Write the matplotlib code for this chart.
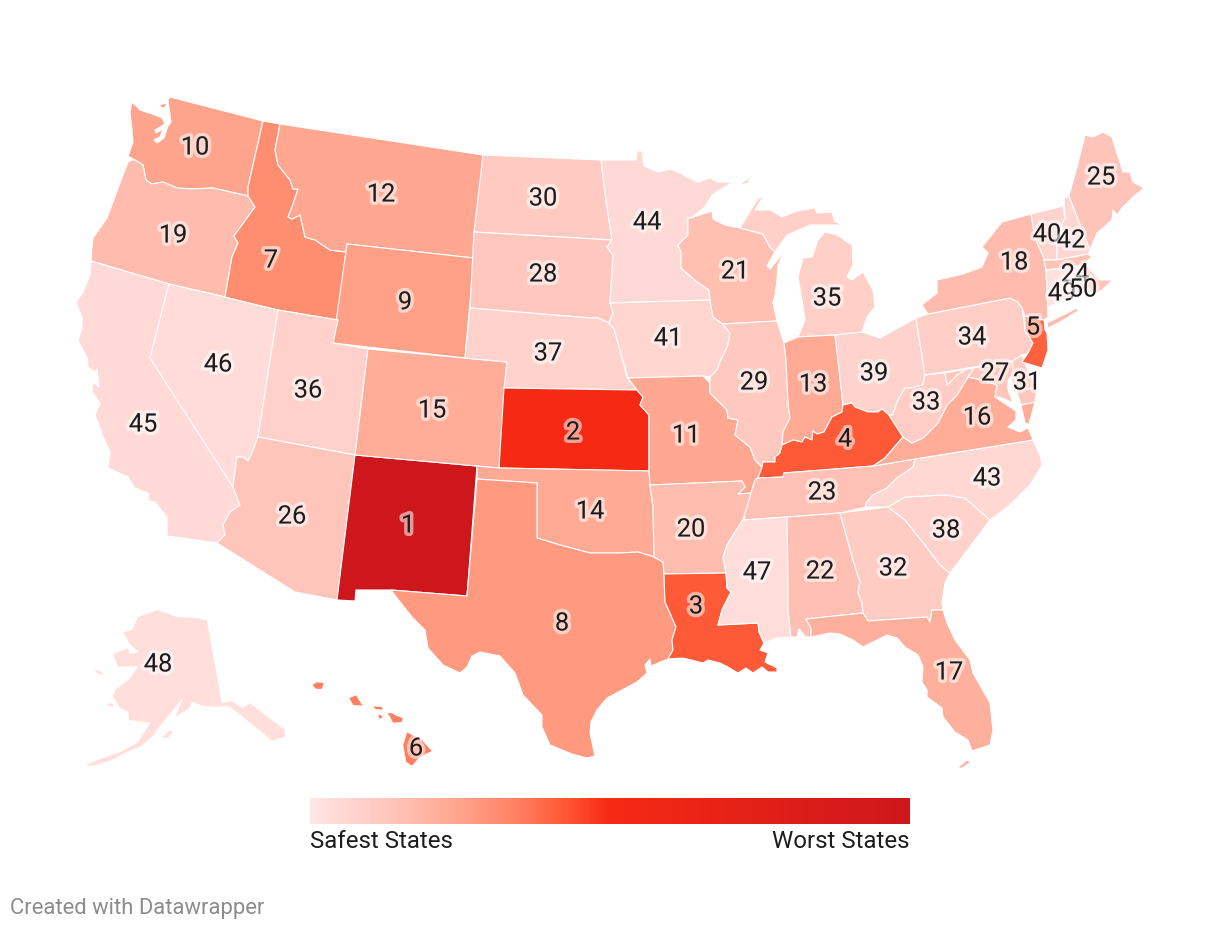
import matplotlib
matplotlib.use("Agg")
import matplotlib.pyplot as plt
import matplotlib.patheffects as pe
from matplotlib.colors import LinearSegmentedColormap
from matplotlib.patches import Polygon
import numpy as np

plt.rcParams['font.family'] = ['Roboto', 'DejaVu Sans']

# state -> safety rank (1 = worst)
RANKS = {
 'NM':1,'KS':2,'LA':3,'KY':4,'NJ':5,'HI':6,'ID':7,'TX':8,'WY':9,'WA':10,
 'MO':11,'MT':12,'IN':13,'OK':14,'CO':15,'VA':16,'FL':17,'NY':18,'OR':19,'AR':20,
 'WI':21,'AL':22,'TN':23,'MA':24,'ME':25,'AZ':26,'MD':27,'SD':28,'IL':29,'ND':30,
 'DE':31,'GA':32,'WV':33,'PA':34,'MI':35,'UT':36,'NE':37,'SC':38,'OH':39,'VT':40,
 'IA':41,'NH':42,'NC':43,'MN':44,'CA':45,'NV':46,'MS':47,'AK':48,'CT':49,'RI':50,
}
# colour-scale position read for each rank, 1..50
SCALE_BY_RANK = [1.0,.5,.42,.42,.41,.35,.31,.28,.26,.25,.24,.24,.23,.23,.22,.22,.21,.17,.17,.165,
 .16,.155,.15,.145,.14,.135,.13,.125,.12,.115,.11,.105,.10,.095,.09,.085,.08,.08,.075,.07,
 .065,.06,.055,.05,.045,.04,.035,.03,.02,.01]
SCALE_STOPS = [(0,'#FFE6E6'),(.07,'#FFD4CE'),(.14,'#FFC4B9'),(.25,'#FFA48C'),(.35,'#FF7E5F'),
               (.42,'#FF5A38'),(.5,'#F62A14'),(1,'#CE171C')]
LEGEND_LOW = 'Safest States'
LEGEND_HIGH = 'Worst States'
CREDIT = 'Created with Datawrapper'

LABEL_XY = {
 'NM':(408,523),'KS':(573,430),'LA':(696,604),'KY':(845,437),'NJ':(1033,325),'HI':(416,746),'ID':(271,258),
 'TX':(562,621),'WY':(405,300),'WA':(195,145),'MO':(686,433),'MT':(381,192),'IN':(813,382),'OK':(590,509),
 'CO':(432,408),'VA':(977,415),'FL':(949,670),'NY':(1014,260),'OR':(173,233),'AR':(691,527),'WI':(735,269),
 'AL':(820,569),'TN':(822,490),'MA':(1075,272),'ME':(1101,175),'AZ':(292,514),'MD':(995,371),'SD':(543,272),
 'IL':(754,380),'ND':(543,196),'DE':(1027,380),'GA':(893,566),'WV':(926,400),'PA':(972,335),'MI':(827,296),
 'UT':(308,388),'NE':(548,351),'SC':(946,528),'OH':(874,371),'VT':(1047,232),'IA':(668,336),'NH':(1071,238),
 'NC':(987,476),'MN':(647,220),'CA':(143,422),'NV':(218,362),'MS':(757,570),'AK':(158,662),'CT':(1062,291),
 'RI':(1083,287),
}

# Map outlines, in the map's projected coordinates
SHAPES = {
 'WA':[[(170,97),(263,121),(248,187),(248,196),(213,188),(192,189),(177,188),(163,182),(152,184),(146,180),(143,165),(135,160),(128,156),(131,148),(133,142),(132,130),(130,112),(132,102),(140,110),(155,115),(162,118),(165,124),(155,130),(156,133),(163,129),(160,137),(154,140),(157,143),(164,138),(168,126),(171,122),(169,108),(168,100)],
       [(159,105),(166,103),(166,107),(162,108)]],
 'OR':[[(132,160),(135,160),(143,165),(146,180),(152,184),(163,182),(177,188),(192,189),(213,188),(248,196),(255,207),(234,236),(238,243),(232,257),(225,297),(169,284),(91,261),(92,247),(93,238),(107,218),(120,183),(128,162)]],
 'CA':[[(91,261),(169,284),(150,358),(233,487),(240,505),(230,512),(223,525),(225,535),(217,543),(167,536),(167,517),(155,502),(149,501),(148,493),(135,488),(128,477),(108,468),(110,452),(103,437),(95,415),(100,403),(92,392),(93,382),(99,387),(97,369),(95,372),(88,367),(87,358),(78,340),(82,328),(82,317),(76,302),(83,292),(90,275)]],
 'NV':[[(169,284),(225,297),(278,310),(258,437),(252,453),(248,461),(243,457),(237,457),(233,487),(150,358)]],
 'ID':[[(263,121),(280,124),(275,150),(278,165),(290,180),(293,189),(298,189),(292,207),(288,217),(292,219),(300,215),(305,237),(315,240),(330,250),(346,252),(338,320),(278,310),(225,297),(232,257),(238,243),(234,236),(255,207),(248,196),(248,187)]],
 'MT':[[(280,124),(483,155),(474,258),(347,244),(346,252),(330,250),(315,240),(305,237),(300,215),(292,219),(288,217),(292,207),(298,189),(293,189),(290,180),(278,165),(275,150)]],
 'WY':[[(347,244),(474,258),(465,358),(333,343)]],
 'UT':[[(278,310),(338,320),(333,343),(368,349),(355,455),(258,437)]],
 'AZ':[[(258,437),(355,455),(337,600),(295,592),(217,543),(225,535),(223,525),(230,512),(240,505),(233,487),(237,457),(243,457),(248,461),(252,453)]],
 'NM':[[(355,455),(477,466),(467,596),(391,590),(356,590),(355,601),(337,600)]],
 'CO':[[(368,349),(507,362),(499,468),(355,455)]],
 'ND':[[(483,155),(601,160),(605,193),(610,227),(612,240),(474,232)]],
 'SD':[[(474,232),(612,240),(607,247),(613,255),(610,303),(613,313),(609,323),(598,318),(590,318),(470,308)]],
 'NE':[[(470,308),(590,318),(598,318),(609,323),(614,329),(620,350),(627,378),(637,390),(504,388),(507,362),(465,358)]],
 'KS':[[(504,388),(637,390),(643,397),(640,405),(649,415),(649,471),(499,468)]],
 'OK':[[(477,466),(499,468),(649,471),(650,485),(653,507),(654,557),(638,552),(620,553),(590,553),(560,545),(537,538),(537,483),(477,479)]],
 'TX':[[(477,479),(537,483),(537,538),(560,545),(590,553),(620,553),(638,552),(654,557),(663,562),(664,574),(665,602),(670,613),(676,627),(672,640),(673,650),(668,659),(651,666),(650,659),(645,665),(647,673),(637,682),(607,698),(597,710),(591,722),(590,733),(595,756),(587,758),(572,754),(550,745),(542,727),(542,715),(523,695),(515,673),(500,656),(480,652),(472,656),(467,667),(460,673),(443,665),(428,648),(425,630),(412,617),(397,598),(391,590),(467,596)]],
 'MN':[[(601,160),(636,160),(637,151),(642,151),(644,166),(658,172),(670,169),(680,173),(687,177),(698,182),(710,178),(718,182),(733,182),(712,195),(705,207),(691,218),(688,218),(688,235),(678,245),(681,252),(681,268),(688,274),(697,282),(709,290),(710,300),(610,303),(613,255),(607,247),(612,240),(610,227),(605,193)]],
 'IA':[[(610,303),(710,300),(713,317),(723,324),(730,333),(728,345),(720,362),(717,370),(710,377),(703,376),(628,378),(620,350),(614,329),(609,323),(613,313)]],
 'MO':[[(628,378),(703,376),(710,383),(710,393),(727,410),(728,418),(738,420),(735,435),(750,447),(755,460),(762,467),(758,478),(755,480),(751,493),(738,494),(745,487),(742,481),(650,485),(649,471),(649,415),(640,405),(643,397),(637,390)]],
 'AR':[[(650,485),(742,481),(745,487),(738,494),(751,493),(745,517),(735,532),(727,545),(723,557),(726,573),(664,574),(663,562),(654,557),(653,507)]],
 'LA':[[(664,574),(726,573),(727,588),(731,592),(722,610),(718,625),(758,623),(759,632),(764,643),(760,650),(768,653),(765,662),(777,668),(777,672),(768,672),(762,667),(753,673),(746,668),(738,673),(728,667),(720,663),(708,660),(703,663),(683,658),(668,659),(673,650),(672,640),(676,627),(670,613),(665,602)]],
 'WI':[[(691,218),(712,211),(713,219),(725,225),(740,228),(763,234),(770,247),(775,252),(767,266),(770,269),(784,252),(778,265),(777,280),(775,295),(773,303),(777,321),(723,324),(713,317),(710,300),(709,290),(697,282),(688,274),(681,268),(681,252),(678,245),(688,235),(688,218)]],
 'IL':[[(723,324),(777,321),(784,343),(786,360),(788,403),(790,418),(783,432),(782,445),(780,453),(775,457),(775,462),(763,462),(762,467),(755,460),(750,447),(735,435),(738,420),(728,418),(727,410),(710,393),(710,383),(710,377),(717,370),(720,362),(728,345),(730,333)]],
 'MI':[[(740,228),(757,200),(765,194),(755,210),(770,210),(782,217),(797,211),(815,208),(817,213),(832,212),(835,222),(845,225),(823,225),(810,225),(787,235),(775,252),(770,247),(763,234)],
       [(825,232),(818,240),(812,257),(803,258),(798,277),(802,300),(805,320),(798,337),(835,335),(862,332),(867,317),(875,307),(873,290),(863,272),(852,280),(847,277),(853,265),(852,245),(837,235)],
       [(738,186),(750,177),(748,183)]],
 'IN':[[(784,343),(798,337),(835,335),(838,360),(843,405),(842,412),(832,417),(824,432),(817,434),(813,431),(812,440),(805,437),(802,442),(793,440),(782,445),(783,432),(790,418),(788,403),(786,360)]],
 'OH':[[(835,335),(862,332),(880,338),(916,318),(925,373),(923,385),(910,388),(905,388),(897,402),(893,415),(889,415),(882,409),(878,412),(868,412),(855,407),(852,403),(843,405),(838,360)]],
 'KY':[[(763,462),(775,462),(775,457),(780,453),(782,445),(793,440),(802,442),(805,437),(812,440),(813,431),(817,434),(824,432),(832,417),(842,412),(843,405),(852,403),(855,407),(868,412),(878,412),(882,409),(889,415),(903,437),(885,458),(873,466),(784,473),(783,477),(758,478),(762,467)]],
 'TN':[[(758,478),(783,477),(784,473),(873,466),(915,459),(913,467),(897,478),(887,488),(873,495),(866,503),(866,507),(840,513),(787,517),(743,520),(751,493),(755,480)]],
 'MS':[[(743,520),(787,517),(788,580),(788,610),(791,637),(777,638),(764,643),(759,632),(758,623),(718,625),(722,610),(731,592),(727,588),(726,573),(723,557),(727,545),(735,532),(745,517)]],
 'AL':[[(787,517),(840,513),(853,560),(860,582),(858,593),(862,603),(863,613),(806,619),(811,628),(811,637),(806,637),(799,629),(797,637),(791,637),(788,610),(788,580)]],
 'GA':[[(840,513),(888,507),(905,520),(925,545),(940,565),(950,573),(945,583),(942,603),(943,610),(932,610),(930,622),(927,617),(868,621),(863,613),(862,603),(858,593),(860,582),(853,560)]],
 'FL':[[(806,619),(863,613),(868,621),(927,617),(930,622),(932,610),(943,610),(947,623),(955,640),(970,660),(973,673),(990,703),(993,730),(990,745),(972,751),(968,740),(955,732),(943,717),(942,708),(927,697),(927,690),(922,682),(923,667),(918,655),(905,647),(897,638),(887,635),(877,640),(863,647),(853,640),(840,634),(830,633),(811,637),(811,628)],
       [(957,768),(967,760),(971,762),(962,768)]],
 'SC':[[(888,507),(905,497),(945,495),(965,498),(990,520),(975,540),(960,560),(950,573),(940,565),(925,545),(905,520)]],
 'NC':[[(915,459),(1033,440),(1040,455),(1042,465),(1030,485),(1010,505),(990,520),(965,498),(945,495),(905,497),(888,507),(866,507),(866,503),(873,495),(887,488),(897,478),(913,467)]],
 'VA':[[(873,466),(885,458),(903,437),(912,443),(923,438),(938,423),(947,405),(957,395),(968,377),(982,380),(997,385),(995,397),(1016,411),(1016,420),(1008,427),(1020,432),(1028,428),(1032,437),(1033,440),(915,459)],
       [(1021,405),(1035,402),(1029,424),(1025,423)]],
 'WV':[[(889,415),(893,415),(897,402),(905,388),(910,388),(923,385),(925,375),(945,373),(947,385),(957,375),(968,368),(974,368),(968,377),(957,395),(947,405),(938,423),(923,438),(912,443),(903,437)]],
 'MD':[[(945,373),(1012,361),(1017,390),(1037,388),(1035,402),(1021,405),(1018,395),(1012,382),(1012,375),(1008,380),(1008,390),(1013,403),(1000,397),(995,397),(997,385),(982,380),(968,377),(974,368),(968,368),(957,375),(947,385)]],
 'DE':[[(1012,361),(1022,355),(1027,368),(1037,388),(1017,390)]],
 'PA':[[(916,318),(928,314),(1010,298),(1018,302),(1022,308),(1025,330),(1033,343),(1028,353),(1022,355),(1012,361),(925,375)]],
 'NJ':[[(1025,316),(1044,320),(1045,330),(1047,333),(1048,350),(1042,368),(1022,362),(1028,353),(1033,343),(1025,330)]],
 'NY':[[(928,314),(922,305),(937,293),(937,280),(963,274),(982,267),(988,253),(982,247),(1002,222),(1031,214),(1035,238),(1044,258),(1046,270),(1047,290),(1048,317),(1044,320),(1025,316),(1022,308),(1018,302),(1010,298)],
       [(1047,323),(1077,308),(1078,311),(1060,322),(1048,328)]],
 'VT':[[(1031,214),(1063,206),(1065,218),(1058,233),(1057,242),(1057,260),(1044,260),(1044,258),(1035,238)]],
 'NH':[[(1064,198),(1069,196),(1090,250),(1088,254),(1057,260),(1057,242),(1058,233),(1065,218)]],
 'MA':[[(1044,260),(1057,260),(1088,254),(1092,257),(1085,263),(1090,270),(1100,280),(1113,280),(1102,290),(1097,293),(1090,292),(1086,284),(1080,265),(1074,267),(1046,270)]],
 'CT':[[(1046,270),(1074,267),(1077,295),(1048,307),(1047,290)]],
 'RI':[[(1074,267),(1080,265),(1086,284),(1090,292),(1077,295)]],
 'ME':[[(1069,196),(1077,167),(1085,135),(1093,137),(1103,132),(1112,137),(1123,172),(1130,172),(1133,182),(1144,188),(1133,197),(1122,208),(1117,215),(1113,210),(1112,220),(1097,233),(1090,250)]],
 'HI':[[(312,685),(317,682),(324,683),(322,689),(316,689)],
       [(349,698),(356,695),(363,706),(353,705)],
       [(373,706),(382,707),(383,710),(375,709)],
       [(378,714),(383,716),(381,719),(379,718)],
       [(387,713),(392,713),(395,715),(403,718),(402,722),(393,723),(390,717)],
       [(407,732),(412,735),(420,738),(432,751),(420,757),(412,766),(406,762),(403,745)]],
 'AK':[[(157,610),(148,613),(138,617),(132,630),(123,632),(129,643),(138,652),(130,654),(128,648),(113,654),(118,667),(138,666),(130,678),(115,690),(113,697),(120,708),(128,712),(129,720),(150,723),(138,742),(120,752),(108,756),(85,765),(92,766),(110,761),(127,752),(140,747),(152,737),(165,720),(183,698),(175,717),(190,708),(192,702),(203,706),(215,707),(228,706),(238,713),(255,727),(272,741),(285,737),(285,730),(272,720),(250,703),(243,708),(232,701),(222,703),(207,620),(197,618),(177,617),(167,613)],
       [(162,737),(170,730),(173,732),(168,738)],
       [(107,704),(112,703),(114,707),(110,707)],
       [(94,669),(100,671),(105,675),(98,674)]],
}

cmap = LinearSegmentedColormap.from_list('safety', SCALE_STOPS, N=512)

fig = plt.figure(figsize=(12.2, 9.3), dpi=100)
ax = fig.add_axes([0, 0, 1, 1])
ax.set_xlim(0, 1220)
ax.set_ylim(930, 0)
ax.axis('off')

for st, parts in SHAPES.items():
    col = cmap(SCALE_BY_RANK[RANKS[st] - 1])
    lw = 0.3 if st in ('HI', 'AK') else 0.8
    for p in parts:
        ax.add_patch(Polygon(p, closed=True, facecolor=col, edgecolor='white', linewidth=lw, joinstyle='round', zorder=2))

halo = [pe.withStroke(linewidth=5, foreground='white', alpha=0.55)]
for st, rank in sorted(RANKS.items(), key=lambda kv: kv[1]):
    x, y = LABEL_XY[st]
    ax.text(x, y, str(rank), ha='center', va='center_baseline', fontsize=18.3, color='#1d1d1d',
            path_effects=halo, zorder=5)

grad = np.linspace(0, 1, 600).reshape(1, -1)
ax.imshow(grad, cmap=cmap, vmin=0, vmax=1, extent=(310, 910, 824, 798), aspect='auto', zorder=3)
ax.set_xlim(0, 1220)
ax.set_ylim(930, 0)
ax.text(310, 848, LEGEND_LOW, ha='left', va='baseline', fontsize=17.3, color='#1d1d1d')
ax.text(910, 848, LEGEND_HIGH, ha='right', va='baseline', fontsize=17.3, color='#1d1d1d')
ax.text(10, 914, CREDIT, ha='left', va='baseline', fontsize=15.8, color='#8c8c8c')

fig.savefig('out.png', dpi=100, facecolor='white')
